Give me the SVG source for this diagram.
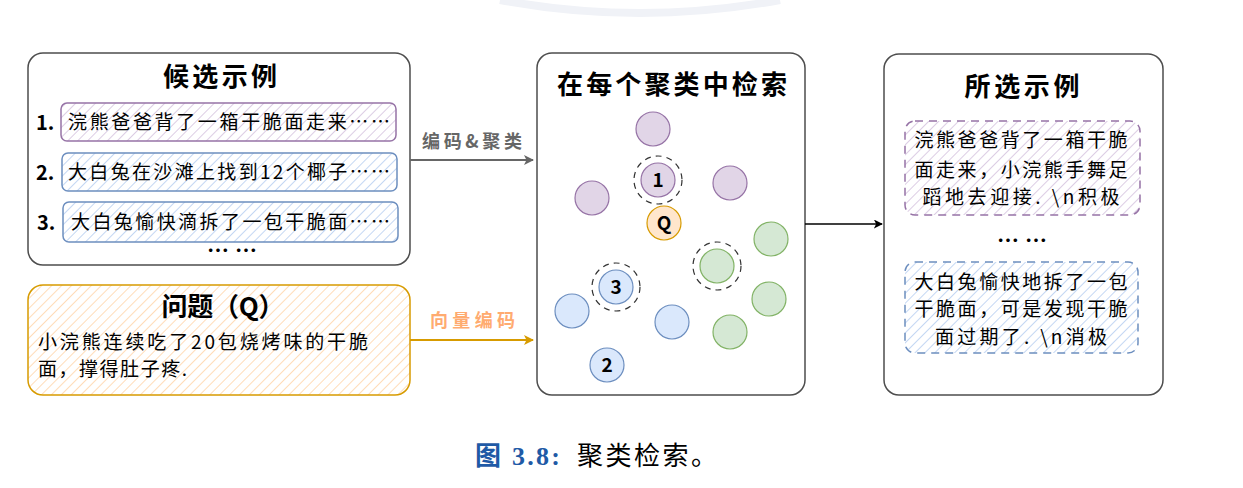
<svg xmlns="http://www.w3.org/2000/svg" width="1243" height="488" viewBox="0 0 1243 488">
<style>
text{font-family:"Noto Sans CJK SC","Noto Sans",sans-serif;fill:#000}
.title{font-size:26px;font-weight:bold;text-anchor:middle}
.t{font-size:19px}
.num{font-size:20px;font-weight:bold}
.box{fill:#fff;stroke:#4d4d4d;stroke-width:1.5}
.pu{fill:#e1d5e7;stroke:#9673a6;stroke-width:1.2}
.gr{fill:#d5e8d4;stroke:#82b366;stroke-width:1.2}
.bl{fill:#dae8fc;stroke:#6c8ebf;stroke-width:1.2}
.or{fill:#ffe6cc;stroke:#d79b00;stroke-width:1.2}
.ring{fill:none;stroke:#333;stroke-width:1.2;stroke-dasharray:6 5}
.cl{font-size:19px;font-weight:bold;text-anchor:middle}
.m{text-anchor:middle}
.cap{font-family:"Liberation Serif","Noto Sans CJK SC",serif;font-size:26px}
</style>
<defs>
<pattern id="hp" width="7" height="7" patternUnits="userSpaceOnUse" patternTransform="rotate(45)"><rect width="7" height="7" fill="#fff"/><line x1="0" y1="0" x2="0" y2="7" stroke="#dccde4" stroke-width="2"/></pattern>
<pattern id="hb" width="7" height="7" patternUnits="userSpaceOnUse" patternTransform="rotate(45)"><rect width="7" height="7" fill="#fff"/><line x1="0" y1="0" x2="0" y2="7" stroke="#c4d7f3" stroke-width="2"/></pattern>
<pattern id="ho" width="7" height="7" patternUnits="userSpaceOnUse" patternTransform="rotate(45)"><rect width="7" height="7" fill="#fff"/><line x1="0" y1="0" x2="0" y2="7" stroke="#ffdcb8" stroke-width="2"/></pattern>
<marker id="ag" viewBox="0 0 10 10" refX="9" refY="5" markerWidth="5" markerHeight="5" orient="auto"><path d="M0 0 L10 5 L0 10 L2.5 5 Z" fill="#666"/></marker>
<marker id="ao" viewBox="0 0 10 10" refX="9" refY="5" markerWidth="5" markerHeight="5" orient="auto"><path d="M0 0 L10 5 L0 10 L2.5 5 Z" fill="#d79b00"/></marker>
<marker id="ak" viewBox="0 0 10 10" refX="9" refY="5" markerWidth="6" markerHeight="6" orient="auto"><path d="M0 0 L10 5 L0 10 L2.5 5 Z" fill="#000"/></marker>
</defs>
<rect width="1243" height="488" fill="#fff"/>
<path d="M500 0 Q640 26 780 0" fill="none" stroke="#f0f2f7" stroke-width="8"/>

<g id="candidates">
<rect class="box" x="28" y="53" width="382" height="212" rx="15"/>
<text class="title" x="220" y="86" textLength="114">候选示例</text>
<rect x="61" y="103" width="335" height="38" rx="6" fill="url(#hp)" stroke="#9673a6" stroke-width="1.5"/>
<rect x="62" y="153" width="335" height="38" rx="6" fill="url(#hb)" stroke="#6c8ebf" stroke-width="1.5"/>
<rect x="63" y="202" width="335" height="40" rx="6" fill="url(#hb)" stroke="#6c8ebf" stroke-width="1.5"/>
<text class="num" x="36" y="130">1.</text>
<text class="num" x="36" y="180">2.</text>
<text class="num" x="37" y="230">3.</text>
<text class="t" x="68" y="129" textLength="322">浣熊爸爸背了一箱干脆面走来……</text>
<text class="t" x="68" y="179" textLength="322">大白兔在沙滩上找到12个椰子……</text>
<text class="t" x="71" y="229" textLength="319">大白兔愉快滴拆了一包干脆面……</text>
<text x="207" y="258" font-size="22" font-weight="bold" textLength="50">……</text>
</g>

<g id="question">
<rect x="28" y="285" width="382" height="110" rx="15" fill="url(#ho)" stroke="#d79b00" stroke-width="1.5"/>
<text class="title" x="223" y="316" textLength="123">问题（Q）</text>
<text class="t" x="38" y="349" textLength="330">小浣熊连续吃了20包烧烤味的干脆</text>
<text class="t" x="38" y="376" textLength="149">面，撑得肚子疼.</text>
</g>

<g id="search">
<rect class="box" x="537" y="53" width="268" height="342" rx="15"/>
<text class="title" x="672" y="94" textLength="230">在每个聚类中检索</text>
<circle class="pu" cx="653" cy="129" r="17"/>
<circle class="pu" cx="730" cy="183" r="17"/>
<circle class="pu" cx="592" cy="198" r="17"/>
<circle class="pu" cx="658" cy="180" r="17"/>
<circle class="ring" cx="658" cy="180" r="24"/>
<text class="cl" x="658" y="187">1</text>
<circle class="or" cx="664" cy="223" r="17"/>
<text class="cl" x="664" y="230">Q</text>
<circle class="gr" cx="771" cy="239" r="17"/>
<circle class="gr" cx="717" cy="266" r="17"/>
<circle class="ring" cx="717" cy="266" r="24"/>
<circle class="gr" cx="769" cy="299" r="17"/>
<circle class="gr" cx="730" cy="332" r="17"/>
<circle class="bl" cx="616" cy="287" r="17"/>
<circle class="ring" cx="616" cy="287" r="24"/>
<text class="cl" x="616" y="294">3</text>
<circle class="bl" cx="572" cy="311" r="17"/>
<circle class="bl" cx="672" cy="322" r="17"/>
<circle class="bl" cx="607" cy="365" r="17"/>
<text class="cl" x="607" y="372">2</text>
</g>

<g id="selected">
<rect class="box" x="884" y="54" width="279" height="341" rx="15"/>
<text class="title" x="1022" y="96" textLength="115">所选示例</text>
<rect x="905" y="121" width="235" height="94" rx="10" fill="url(#hp)" stroke="#9673a6" stroke-width="1.5" stroke-dasharray="8 6"/>
<text class="t m" x="1021" y="147" textLength="213">浣熊爸爸背了一箱干脆</text>
<text class="t m" x="1021" y="177" textLength="213">面走来，小浣熊手舞足</text>
<text class="t m" x="1021" y="204" textLength="197">蹈地去迎接. \n积极</text>
<text x="997" y="248" font-size="22" font-weight="bold" textLength="50">……</text>
<rect x="905" y="262" width="233" height="91" rx="10" fill="url(#hb)" stroke="#6c8ebf" stroke-width="1.5" stroke-dasharray="8 6"/>
<text class="t m" x="1021" y="289" textLength="213">大白兔愉快地拆了一包</text>
<text class="t m" x="1021" y="316" textLength="213">干脆面，可是发现干脆</text>
<text class="t m" x="1021" y="344" textLength="172">面过期了. \n消极</text>
</g>

<g id="connectors">
<line x1="410" y1="160" x2="533" y2="160" stroke="#666" stroke-width="2" marker-end="url(#ag)"/>
<text x="422" y="148" font-size="18" font-weight="bold" style="fill:#666" textLength="100">编码&amp;聚类</text>
<line x1="410" y1="340" x2="533" y2="340" stroke="#d79b00" stroke-width="2" marker-end="url(#ao)"/>
<text x="430" y="327" font-size="18" font-weight="bold" style="fill:#ffab70" textLength="85">向量编码</text>
<line x1="805" y1="224" x2="882" y2="224" stroke="#000" stroke-width="1.5" marker-end="url(#ak)"/>
</g>

<g id="caption">
<text class="cap" x="475" y="465" font-weight="bold" style="fill:#1f5aa6" textLength="85">图 3.8:</text>
<text class="cap" x="577" y="465" font-size="27" textLength="140">聚类检索。</text>
</g>
</svg>
